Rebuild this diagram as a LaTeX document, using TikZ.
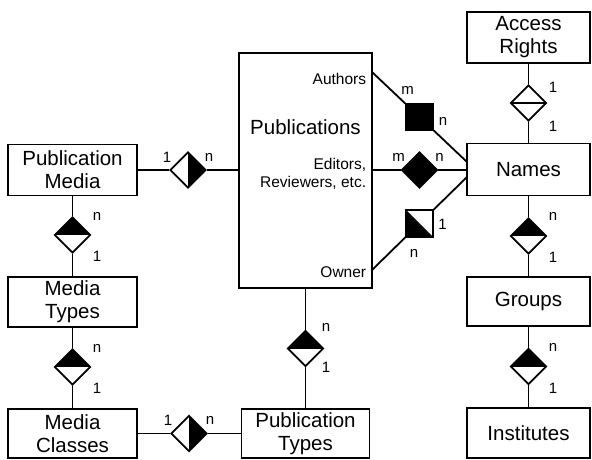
\documentclass[tikz,border=0pt]{standalone}
\usepackage{fontspec}
\setmainfont{Liberation Sans}
\usepackage{tikz}
\usetikzlibrary{shapes.geometric,calc,positioning}

\begin{document}
\begin{tikzpicture}[
  x=1pt, y=-1pt,
  line width=1.8pt,
  entity/.style={draw, rectangle, minimum width=129pt, minimum height=50pt,
    align=center, inner sep=0pt, font=\fontsize{20.5}{23}\selectfont},
  rel/.style={draw, diamond, fill=white, minimum width=36pt,
    minimum height=36pt, inner sep=0pt},
  relup/.style={rel, path picture={\fill[black] (path picture bounding box.west)
    rectangle (path picture bounding box.north east);}},
  relright/.style={rel, path picture={\fill[black] (path picture bounding box.south)
    rectangle (path picture bounding box.north east);}},
  relfull/.style={rel, fill=black},
  relone/.style={rel, path picture={\draw (path picture bounding box.west)
    -- (path picture bounding box.east);}},
  sq/.style={draw, rectangle, fill=white, minimum size=26.5pt, inner sep=0pt},
  sqfull/.style={sq, fill=black},
  sqhalf/.style={sq, path picture={\fill[black] (path picture bounding box.north west)
    -- (path picture bounding box.south west) -- (path picture bounding box.south east) -- cycle;}},
  card/.style={font=\fontsize{15}{17}\selectfont, inner sep=0pt},
  role/.style={font=\fontsize{15.5}{18}\selectfont, inner sep=0pt,
    align=right, anchor=east}
]
\useasboundingbox (0,0) rectangle (592,460);

% entities
\node[entity, minimum height=51pt] (pubmedia)     at (72.5,170)   {Publication\\Media};
\node[entity]                      (mediatypes)   at (72.5,302)   {Media\\Types};
\node[entity, minimum height=49pt] (mediaclasses) at (72.5,433.5) {Media\\Classes};
\node[entity, minimum width=133pt, minimum height=235pt] (pubs) at (305.5,170.5) {};
\node[font=\fontsize{20.5}{23}\selectfont] (pubslabel) at (305.5,127) {Publications};
\node[entity, minimum width=128pt, minimum height=49pt] (pubtypes) at (305.5,433.5) {Publication\\Types};
\node[entity, minimum width=123pt, minimum height=51pt] (access)     at (528.5,37.5)  {Access\\Rights};
\node[entity, minimum width=123pt, minimum height=52pt] (names)      at (528.5,169.5) {Names};
\node[entity, minimum width=123pt, minimum height=49pt] (groups)     at (528.5,301.5) {Groups};
\node[entity, minimum width=123pt]                      (institutes) at (528.5,433)   {Institutes};

% roles inside Publications
\node[role] (authlbl) at (367,79)  {Authors};
\node[role] (editlbl) at (367,174) {Editors,\\Reviewers, etc.};
\node[role] (ownlbl)  at (367,272) {Owner};

\coordinate (pa) at (372,72);
\coordinate (pe) at (372,170);
\coordinate (po) at (372,270);
\coordinate (na) at (467,162);
\coordinate (ne) at (467,170);
\coordinate (no) at (467,177);

% relationships
\node[relright] (rpm)  at (188,170)     {};
\node[relup]    (rmt)  at (72.5,235)    {};
\node[relup]    (rmc)  at (72.5,367)    {};
\node[relright] (rpt)  at (189,433.5)   {};
\node[relup]    (rpp)  at (305.5,348.5) {};
\node[relone]   (rar)  at (528.5,103)   {};
\node[relup]    (rng)  at (528.5,236)   {};
\node[relup]    (rgi)  at (528.5,366.5) {};
\node[relfull]  (redit) at ($(pe)!0.5!(ne)$) {};
\node[sqfull]   (rauth) at ($(pa)!0.5!(na)$) {};
\node[sqhalf]   (rown)  at ($(po)!0.5!(no)$) {};

\draw (pubmedia) -- (rpm) -- (rpm -| pubs.west);
\draw (pubmedia) -- (rmt) -- (mediatypes);
\draw (mediatypes) -- (rmc) -- (mediaclasses);
\draw (mediaclasses) -- (rpt) -- (pubtypes);
\draw (pubs) -- (rpp) -- (pubtypes);
\draw (access) -- (rar) -- (names);
\draw (names) -- (rng) -- (groups);
\draw (groups) -- (rgi) -- (institutes);
\draw (pa) -- (rauth) -- (na);
\draw (pe) -- (redit) -- (ne);
\draw (po) -- (rown) -- (no);

% cardinalities
\node[card] (c1a) at ($(rpm)+(-21,-13)$) {1};
\node[card] (c1b) at ($(rpm)+(21,-13)$)  {n};
\node[card] (c2a) at ($(rmt)+(24.5,-19)$) {n};
\node[card] (c2b) at ($(rmt)+(24.5,21)$)  {1};
\node[card] (c3a) at ($(rmc)+(24.5,-19)$) {n};
\node[card] (c3b) at ($(rmc)+(24.5,21)$)  {1};
\node[card] (c4a) at ($(rpt)+(-21,-13)$) {1};
\node[card] (c4b) at ($(rpt)+(21,-13)$)  {n};
\node[card] (c5a) at ($(rpp)+(20.5,-21)$) {n};
\node[card] (c5b) at ($(rpp)+(20.5,19)$)  {1};
\node[card] (c6a) at ($(rar)+(24.5,-16)$) {1};
\node[card] (c6b) at ($(rar)+(24.5,23)$)  {1};
\node[card] (c7a) at ($(rng)+(24.5,-20)$) {n};
\node[card] (c7b) at ($(rng)+(24.5,21)$)  {1};
\node[card] (c8a) at ($(rgi)+(24.5,-19)$) {n};
\node[card] (c8b) at ($(rgi)+(24.5,22)$)  {1};
\node[card] (c9a) at ($(redit)+(-21,-13)$) {m};
\node[card] (c9b) at ($(redit)+(20,-13)$)  {n};
\node[card] (c10a) at ($(rauth)+(-12,-27)$) {m};
\node[card] (c10b) at ($(rauth)+(23.5,4)$)  {n};
\node[card] (c11a) at ($(rown)+(23,0.5)$)   {1};
\node[card] (c11b) at ($(rown)+(-5.5,29.5)$) {n};
\end{tikzpicture}
\end{document}
